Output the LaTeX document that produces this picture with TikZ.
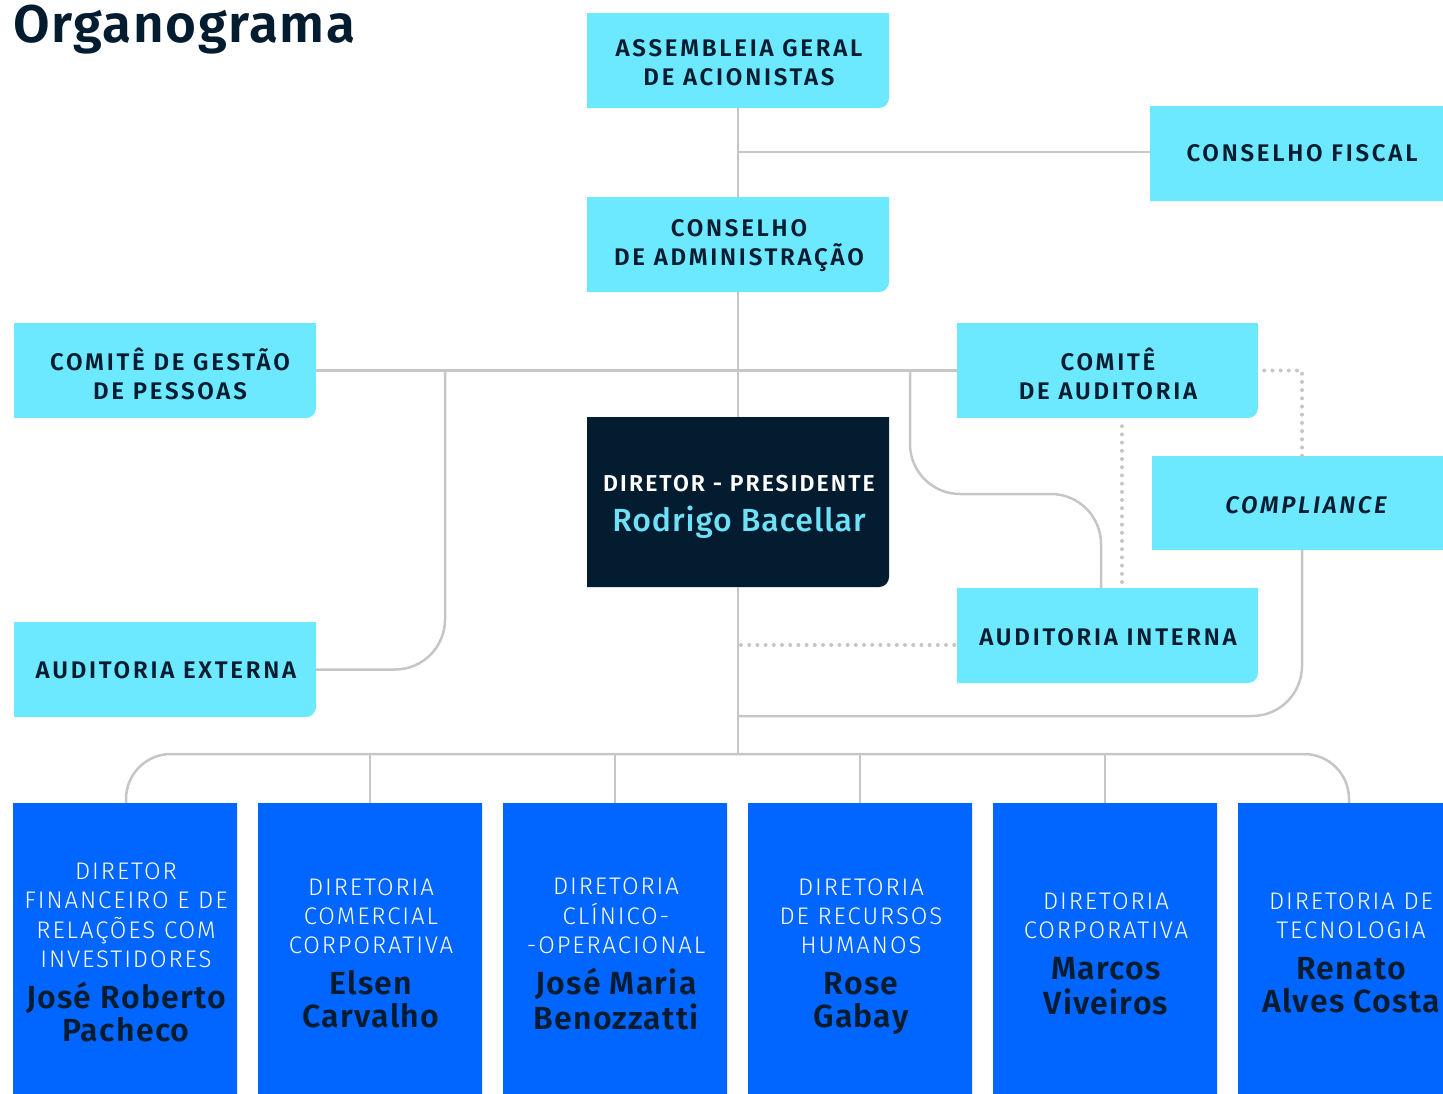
\documentclass[tikz,border=0pt]{standalone}
\usepackage{fontspec}
\setmainfont{Fira Sans}
\newfontfamily\fsemi{Fira Sans SemiBold}[LetterSpace=11.5]
\newfontfamily\fsemiit{Fira Sans SemiBold Italic}[LetterSpace=11.5]
\newfontfamily\fsemitight{Fira Sans SemiBold}[LetterSpace=3]
\newfontfamily\fdp{Fira Sans SemiBold}[LetterSpace=9]
\newfontfamily\fnamebold{Fira Sans SemiBold}[LetterSpace=4]
\newfontfamily\flight{Fira Sans Light}[LetterSpace=8]
\newfontfamily\fmed{Fira Sans Medium}[LetterSpace=3]
\definecolor{cyanbox}{HTML}{6CE8FF}
\definecolor{navy}{HTML}{041C2F}
\definecolor{bluebox}{HTML}{0066FF}
\definecolor{linegray}{HTML}{C6C6C6}
\definecolor{namecyan}{HTML}{6EE0F7}
\newcommand\obox[6]{%
  \fill[#6] (#2,#3) -- (#4,#3) -- (#4,#5-10) arc[start angle=0,end angle=90,radius=10] -- (#2,#5) -- cycle;
  \node[inner sep=0pt, minimum width={(#4-#2)*1pt}, minimum height={(#5-#3)*1pt}] (#1) at ({(#2+#4)/2},{(#3+#5)/2}) {};
}
\newcommand\dtitle{\flight\fontsize{24}{29}\selectfont\color{white}}
\newcommand\dname{\fnamebold\fontsize{32}{32}\selectfont\color{navy}}
\tikzset{
  conn/.style={draw=linegray, line width=2.5pt},
  dotline/.style={draw=linegray, line width=4pt, line cap=round, dash pattern=on 0pt off 8.2pt},
  lbl/.style={align=center, text=navy, inner sep=0pt, font=\fsemi\fontsize{24}{29}\selectfont},
  dtitlenode/.style={anchor=base, inner sep=0pt},
  dnamenode/.style={anchor=base, inner sep=0pt},
}
\begin{document}
\begin{tikzpicture}[x=1pt,y=-1pt]
\useasboundingbox (0,0) rectangle (1443,1093);
\clip (0,0) rectangle (1443,1093);
% title
\node[anchor=base west, inner sep=0pt, text=navy, font=\fsemitight\fontsize{53}{60}\selectfont] (title) at (13,42) {Organograma};
% boxes
\obox{assem}{587}{13}{889}{108}{cyanbox}
\obox{cfiscal}{1150}{106}{1455}{201}{cyanbox}
\obox{cadm}{587}{197}{889}{292}{cyanbox}
\obox{cgp}{14}{323}{316}{418}{cyanbox}
\obox{caud}{957}{323}{1258}{418}{cyanbox}
\obox{dp}{587}{417}{889}{587}{navy}
\obox{compl}{1152}{456}{1455}{550}{cyanbox}
\obox{aint}{957}{588}{1258}{683}{cyanbox}
\obox{aext}{14}{622}{316}{717}{cyanbox}
\obox{d1}{13}{803}{237}{1110}{bluebox}
\obox{d2}{258}{803}{482}{1110}{bluebox}
\obox{d3}{503}{803}{727}{1110}{bluebox}
\obox{d4}{748}{803}{972}{1110}{bluebox}
\obox{d5}{993}{803}{1217}{1110}{bluebox}
\obox{d6}{1238}{803}{1462}{1110}{bluebox}
% connectors
\coordinate (jA) at (738,152);
\coordinate (jB) at (738,754);
\draw[conn] (assem.south) -- (cadm.north);
\draw[conn] (jA) -- (jA -| cfiscal.west);
\draw[conn] (cadm.south) -- (dp.north);
\draw[conn] (cgp.east) -- (caud.west);
\draw[conn, rounded corners=50] (cgp.east -| 445,0) -- (445,669.5) -- (aext.east);
\draw[conn, rounded corners=50] (caud.west -| 910,0) -- (910,494) -- (1101,494) -- (aint.north -| 1101,0);
\draw[dotline] (caud.south -| 1122,0) ++(0,8) -- (aint.north -| 1122,0);
\draw[dotline] (caud.east) ++(6,0) -- (1302,370.5) -- (compl.north -| 1302,0);
\draw[dotline] (dp.south |- 0,645) ++(3,0) -- (aint.west |- 0,645);
\draw[conn, rounded corners=50] (compl.south -| 1302,0) -- (1302,716) -- (738,716);
\draw[conn] (dp.south) -- (jB);
\draw[conn, rounded corners=45] (d1.north -| 126,0) -- (126,754) -- (1349,754) -- (d6.north -| 1349,0);
\draw[conn] (jB -| d2.north) -- (d2.north);
\draw[conn] (jB -| d3.north) -- (d3.north);
\draw[conn] (jB -| d4.north) -- (d4.north);
\draw[conn] (jB -| d5.north) -- (d5.north);
% labels
\node[lbl] (assemT) at (739,63) {ASSEMBLEIA GERAL\\DE ACIONISTAS};
\node[lbl] (cfiscalT) at (1302,153) {CONSELHO FISCAL};
\node[lbl] (cadmT) at (739,246) {CONSELHO\\DE ADMINISTRAÇÃO};
\node[lbl] (cgpT) at (170,374) {COMITÊ DE GESTÃO\\DE PESSOAS};
\node[lbl] (caudT) at (1108,374) {COMITÊ\\DE AUDITORIA};
\node[lbl, font=\fsemiit\fontsize{24}{29}\selectfont] (complT) at (1306,505) {COMPLIANCE};
\node[lbl] (aintT) at (1108,637) {AUDITORIA INTERNA};
\node[lbl] (aextT) at (166,670) {AUDITORIA EXTERNA};
\node[inner sep=0pt, text=white, font=\fdp\fontsize{23}{29}\selectfont] (dpT) at (739,484) {DIRETOR - PRESIDENTE};
\node[inner sep=0pt, text=namecyan, font=\fmed\fontsize{32}{36}\selectfont] (dpN) at (739,522) {Rodrigo Bacellar};
% diretorias
\node[dtitlenode] (d1T) at (126,967.5) {\dtitle\begin{tabular}[b]{@{}c@{}}DIRETOR\\FINANCEIRO E DE\\RELAÇÕES COM\\INVESTIDORES\end{tabular}};
\node[dnamenode] (d1N) at (126,1008) {\dname\begin{tabular}[t]{@{}c@{}}José Roberto\\Pacheco\end{tabular}};
\node[dtitlenode] (d2T) at (371,953.5) {\dtitle\begin{tabular}[b]{@{}c@{}}DIRETORIA\\COMERCIAL\\CORPORATIVA\end{tabular}};
\node[dnamenode] (d2N) at (371,994) {\dname\begin{tabular}[t]{@{}c@{}}Elsen\\Carvalho\end{tabular}};
\node[dtitlenode] (d3T) at (616,953.5) {\dtitle\begin{tabular}[b]{@{}c@{}}DIRETORIA\\CLÍNICO-\\-OPERACIONAL\end{tabular}};
\node[dnamenode] (d3N) at (616,994) {\dname\begin{tabular}[t]{@{}c@{}}José Maria\\Benozzatti\end{tabular}};
\node[dtitlenode] (d4T) at (861,953.5) {\dtitle\begin{tabular}[b]{@{}c@{}}DIRETORIA\\DE RECURSOS\\HUMANOS\end{tabular}};
\node[dnamenode] (d4N) at (861,994) {\dname\begin{tabular}[t]{@{}c@{}}Rose\\Gabay\end{tabular}};
\node[dtitlenode] (d5T) at (1106,938.5) {\dtitle\begin{tabular}[b]{@{}c@{}}DIRETORIA\\CORPORATIVA\end{tabular}};
\node[dnamenode] (d5N) at (1106,979) {\dname\begin{tabular}[t]{@{}c@{}}Marcos\\Viveiros\end{tabular}};
\node[dtitlenode] (d6T) at (1351,938.5) {\dtitle\begin{tabular}[b]{@{}c@{}}DIRETORIA DE\\TECNOLOGIA\end{tabular}};
\node[dnamenode] (d6N) at (1351,979) {\dname\begin{tabular}[t]{@{}c@{}}Renato\\Alves Costa\end{tabular}};
\end{tikzpicture}
\end{document}
